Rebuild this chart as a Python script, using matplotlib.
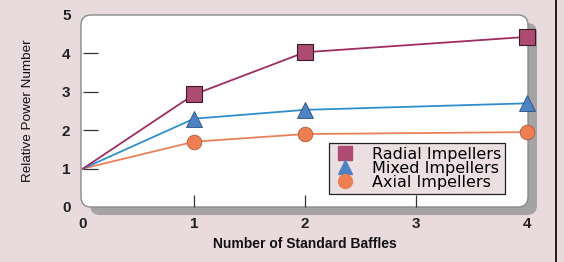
import matplotlib
matplotlib.use("Agg")
import matplotlib.pyplot as plt
from matplotlib.patches import FancyBboxPatch
from matplotlib.lines import Line2D

baffles = [0, 1, 2, 4]
radial = [1.0, 2.93, 4.03, 4.43]
mixed = [1.0, 2.3, 2.53, 2.7]
axial = [1.0, 1.7, 1.9, 1.95]
xticks = [0, 1, 2, 3, 4]
yticks = [0, 1, 2, 3, 4, 5]

W, H = 564, 262
fig = plt.figure(figsize=(W / 100, H / 100), dpi=100)
fig.patch.set_facecolor("#e8dadd")

def fx(px):
    return px / W

def fy(py):
    return 1 - py / H

x0p, x1p, y0p, y1p = 83, 527, 15, 207
ax = fig.add_axes([fx(x0p), fy(y1p), fx(x1p) - fx(x0p), fy(y0p) - fy(y1p)])
ax.set_facecolor("none")
ax.set_zorder(2)
for s in ax.spines.values():
    s.set_visible(False)

r = 10
shadow = FancyBboxPatch((fx(x0p - 2 + 9), fy(y1p + 8)), fx(x1p - x0p + 3), (y1p - y0p) / H,
                        boxstyle=f"round,pad=0,rounding_size={r / W}", mutation_aspect=W / H,
                        transform=fig.transFigure, facecolor="#a3a3a3", edgecolor="none", zorder=-2)
box = FancyBboxPatch((fx(x0p - 2), fy(y1p)), fx(x1p - x0p + 3), (y1p - y0p) / H,
                     boxstyle=f"round,pad=0,rounding_size={r / W}", mutation_aspect=W / H,
                     transform=fig.transFigure, facecolor="white", edgecolor="#8a8a8a",
                     linewidth=1.0, zorder=-1)
fig.patches.extend([shadow, box])

ax.plot(baffles, axial, color="#e9825a", lw=1.3, clip_on=False, zorder=3)
ax.plot(baffles[1:], axial[1:], ls="none", marker="o", ms=10.5,
        mfc="#ee7f52", mec="#b05a3a", mew=0.6, clip_on=False, zorder=3)
ax.plot(baffles, mixed, color="#2f8fcc", lw=1.3, clip_on=False, zorder=3)
ax.plot(baffles[1:], mixed[1:], ls="none", marker="^", ms=11,
        mfc="#4d82c4", mec="#2a4f80", mew=0.6, clip_on=False, zorder=4)
ax.plot(baffles, radial, color="#9e2d62", lw=1.3, clip_on=False, zorder=3)
ax.plot(baffles[1:], radial[1:], ls="none", marker="s", ms=11,
        mfc="#ad4b72", mec="#3a1a26", mew=0.8, clip_on=False, zorder=5)

ax.set_xlim(0, 4)
ax.set_ylim(0, 5)
ax.set_xticks(xticks)
ax.set_yticks(yticks)
tickfont = dict(family=["Liberation Sans", "DejaVu Sans"], weight="bold", size=11)
ax.set_xticklabels([str(v) for v in xticks], **tickfont, color="#222222")
ax.set_yticklabels([str(v) for v in yticks], **tickfont, color="#222222")
ax.tick_params(axis="y", direction="in", length=11, width=0.9, pad=9, color="#333333")
ax.tick_params(axis="x", direction="in", length=9, width=0.9, pad=7, color="#333333")
for t in ax.yaxis.get_major_ticks():
    if t.get_loc() in (0, 5):
        t.tick1line.set_visible(False)
for t in ax.xaxis.get_major_ticks():
    if t.get_loc() in (0, 4):
        t.tick1line.set_visible(False)

fig.text(fx(305), fy(244), "Number of Standard Baffles", ha="center", va="center",
         family=["Liberation Sans", "DejaVu Sans"], weight="bold", size=10, color="#111111")
fig.text(fx(28), fy(111), "Relative Power Number", ha="center", va="center", rotation=90,
         family=["Liberation Sans", "DejaVu Sans"], weight="medium",
         size=9.7, color="#111111")

handles = [
    Line2D([], [], ls="none", marker="s", ms=10, mfc="#ad4b72", mec="#ad4b72"),
    Line2D([], [], ls="none", marker="^", ms=10, mfc="#4d82c4", mec="#4d82c4"),
    Line2D([], [], ls="none", marker="o", ms=10, mfc="#ee7f52", mec="#ee7f52"),
]
leg = ax.legend(handles, ["Radial Impellers", "Mixed Impellers", "Axial Impellers"],
                loc="lower right", bbox_to_anchor=(fx(505), fy(194)),
                bbox_transform=fig.transFigure,
                prop=dict(family=["DejaVu Sans"], size=11.5),
                frameon=True, fancybox=False, edgecolor="#222222", facecolor="#ebdfe1",
                framealpha=1, borderpad=0.25, labelspacing=-0.05, handletextpad=0.9,
                handlelength=1.5, borderaxespad=0)
leg.get_frame().set_linewidth(0.9)
leg.set_zorder(10)

fig.add_artist(Line2D([fx(556), fx(556)], [0, 1], color="black", lw=1.2, transform=fig.transFigure))

fig.savefig("out.png", dpi=100, facecolor=fig.get_facecolor())
